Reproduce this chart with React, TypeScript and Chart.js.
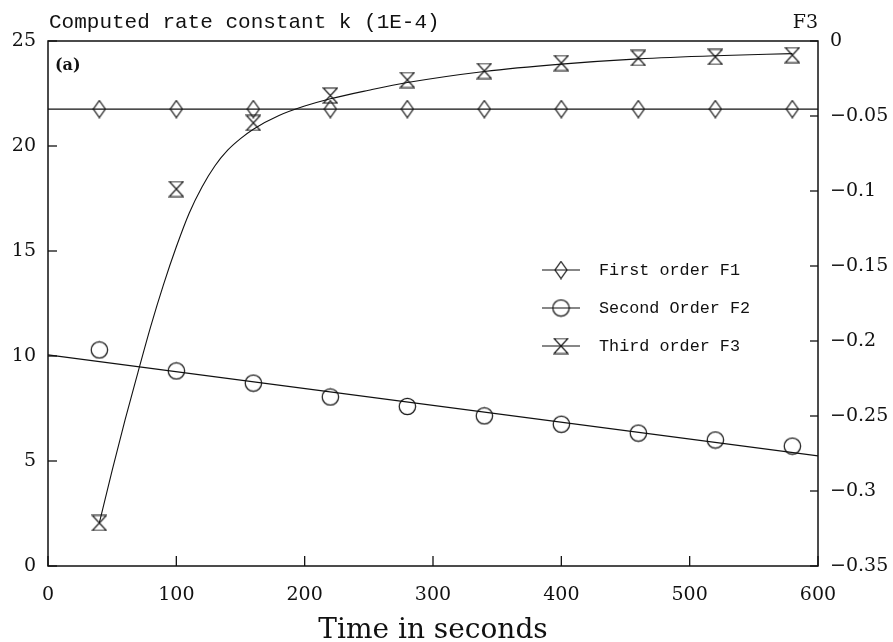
import { useEffect, useRef } from "react";
import { Chart, registerables } from "chart.js";

Chart.register(...registerables);

// ---- data ----
const timeSeconds = [40, 100, 160, 220, 280, 340, 400, 460, 520, 580];
const firstOrderF1 = [21.76, 21.76, 21.76, 21.76, 21.76, 21.76, 21.76, 21.76, 21.76, 21.76];
const secondOrderF2 = [10.29, 9.29, 8.71, 8.05, 7.6, 7.15, 6.75, 6.33, 6.0, 5.71];
const thirdOrderF3 = [-0.3213, -0.0987, -0.0546, -0.0364, -0.026, -0.02, -0.0147, -0.0113, -0.0106, -0.0094];

const f1FitX = [0, 600];
const f1FitY = [21.76, 21.76];
const f2FitX = [0, 600];
const f2FitY = [10.05, 5.24];
const f3FitX = [40, 50, 60, 70, 80, 90, 100, 110, 120, 130, 140, 150, 160, 180, 200, 220, 250, 280, 340, 400, 460, 520, 580];
const f3FitY = [-0.3213, -0.2863, -0.2527, -0.2212, -0.1904, -0.1624, -0.1372, -0.1148, -0.0973, -0.0833, -0.0728, -0.0651, -0.0588, -0.0497, -0.0434, -0.0385, -0.0328, -0.0277, -0.0203, -0.0154, -0.0119, -0.0098, -0.0084];

const xTicksMin = 0;
const xTicksMax = 600;
const xStep = 100;
const kMin = 0;
const kMax = 25;
const kStep = 5;
const f3Min = -0.35;
const f3Max = 0;
const f3Step = 0.05;

const titleLeft = "Computed rate constant k (1E-4)";
const titleRight = "F3";
const xTitle = "Time in seconds";
const panelLabel = "(a)";
const legendLabels = ["First order F1", "Second Order F2", "Third order F3"];

const INK = "#111";

function makeMarker(kind: string): HTMLCanvasElement {
  const c = document.createElement("canvas");
  let w = 14, h = 16;
  if (kind === "diamond") { w = 12; h = 17; }
  if (kind === "circle") { w = 17; h = 17; }
  if (kind === "hourglass") { w = 14; h = 15; }
  c.width = w + 2;
  c.height = h + 2;
  const g = c.getContext("2d")!;
  g.strokeStyle = INK;
  g.lineWidth = 1.2;
  const cx = c.width / 2, cy = c.height / 2;
  g.beginPath();
  if (kind === "diamond") {
    g.moveTo(cx, cy - h / 2);
    g.lineTo(cx + w / 2, cy);
    g.lineTo(cx, cy + h / 2);
    g.lineTo(cx - w / 2, cy);
    g.closePath();
  } else if (kind === "circle") {
    g.arc(cx, cy, w / 2 - 0.3, 0, Math.PI * 2);
  } else {
    g.moveTo(cx - w / 2, cy - h / 2);
    g.lineTo(cx + w / 2, cy - h / 2);
    g.lineTo(cx - w / 2, cy + h / 2);
    g.lineTo(cx + w / 2, cy + h / 2);
    g.closePath();
  }
  g.stroke();
  return c;
}

function fmtNum(v: number): string {
  const n = parseFloat(v.toFixed(2));
  const s = String(Math.abs(n));
  return n < 0 ? "\u2212" + s : s;
}

export default function App() {
  const ref = useRef<HTMLCanvasElement | null>(null);

  useEffect(() => {
    if (!ref.current) return;
    const diamond = makeMarker("diamond");
    const circle = makeMarker("circle");
    const hourglass = makeMarker("hourglass");

    const decor = {
      id: "decor",
      afterDraw(chart: any) {
        const { ctx, chartArea: a, scales } = chart;
        ctx.save();
        ctx.strokeStyle = INK;
        ctx.lineWidth = 1.5;
        ctx.strokeRect(a.left, a.top, a.right - a.left, a.bottom - a.top);
        ctx.lineWidth = 1.3;
        const seg = (x1: number, y1: number, x2: number, y2: number) => {
          ctx.beginPath();
          ctx.moveTo(x1, y1);
          ctx.lineTo(x2, y2);
          ctx.stroke();
        };
        scales.x.ticks.forEach((t: any) => {
          const p = scales.x.getPixelForValue(t.value);
          seg(p, a.bottom, p, a.bottom - 10);
        });
        scales.y.ticks.forEach((t: any) => {
          const p = scales.y.getPixelForValue(t.value);
          seg(a.left, p, a.left + 9, p);
        });
        scales.y2.ticks.forEach((t: any) => {
          const p = scales.y2.getPixelForValue(t.value);
          seg(a.right, p, a.right - 8, p);
        });

        ctx.fillStyle = INK;
        ctx.textBaseline = "alphabetic";
        ctx.font = "21px 'Liberation Mono'";
        ctx.textAlign = "left";
        ctx.fillText(titleLeft, a.left + 1, a.top - 13);
        ctx.font = "19px 'DejaVu Serif'";
        ctx.textAlign = "right";
        ctx.fillText(titleRight, a.right, a.top - 13);
        ctx.font = "28px 'DejaVu Serif'";
        ctx.textAlign = "center";
        ctx.fillText(xTitle, (a.left + a.right) / 2, a.bottom + 72);
        ctx.font = "bold 16px 'DejaVu Serif'";
        ctx.textAlign = "left";
        ctx.fillText(panelLabel, a.left + 7, a.top + 29);

        const markers = [diamond, circle, hourglass];
        const lx = a.left + 494;
        const rows = [a.top + 229, a.top + 267, a.top + 305];
        ctx.font = "16.8px 'Liberation Mono'";
        ctx.lineWidth = 1.1;
        rows.forEach((ry, i) => {
          seg(lx, ry, lx + 38, ry);
          const m = markers[i];
          ctx.drawImage(m, lx + 19 - m.width / 2, ry - m.height / 2);
          ctx.textBaseline = "middle";
          ctx.fillText(legendLabels[i], lx + 57, ry + 1);
        });
        ctx.restore();
      },
    };

    const pts = (xs: number[], ys: number[]) => xs.map((x, i) => ({ x, y: ys[i] }));

    const chart = new Chart(ref.current, {
      type: "scatter",
      data: {
        datasets: [
          { label: "F1 line", data: pts(f1FitX, f1FitY), showLine: true, borderColor: INK, borderWidth: 1.3, pointRadius: 0, yAxisID: "y" },
          { label: "First order F1", data: pts(timeSeconds, firstOrderF1), showLine: false, pointStyle: diamond, pointRadius: 8, yAxisID: "y" },
          { label: "F2 fit", data: pts(f2FitX, f2FitY), showLine: true, borderColor: INK, borderWidth: 1.3, pointRadius: 0, yAxisID: "y" },
          { label: "Second Order F2", data: pts(timeSeconds, secondOrderF2), showLine: false, pointStyle: circle, pointRadius: 8, yAxisID: "y" },
          { label: "F3 fit", data: pts(f3FitX, f3FitY), showLine: true, borderColor: INK, borderWidth: 1.1, pointRadius: 0, cubicInterpolationMode: "monotone", yAxisID: "y2" },
          { label: "Third order F3", data: pts(timeSeconds, thirdOrderF3), showLine: false, pointStyle: hourglass, pointRadius: 8, yAxisID: "y2" },
        ],
      } as any,
      options: {
        responsive: false,
        animation: false,
        devicePixelRatio: 1,
        layout: { padding: { top: 41, left: 0, right: 0, bottom: 0 } },
        plugins: { legend: { display: false }, tooltip: { enabled: false } },
        scales: {
          x: {
            type: "linear", min: xTicksMin, max: xTicksMax,
            ticks: { stepSize: xStep, color: INK, font: { family: "'DejaVu Serif'", size: 19 }, padding: 18, maxRotation: 0 },
            grid: { display: false, drawTicks: false },
            border: { display: false },
            afterFit: (s: any) => { s.height = 76; },
          },
          y: {
            type: "linear", position: "left", min: kMin, max: kMax,
            ticks: { stepSize: kStep, color: INK, font: { family: "'DejaVu Serif'", size: 19 }, padding: 12 },
            grid: { display: false, drawTicks: false },
            border: { display: false },
            afterFit: (s: any) => { s.width = 48; },
          },
          y2: {
            type: "linear", position: "right", min: f3Min, max: f3Max,
            ticks: { stepSize: f3Step, color: INK, font: { family: "'DejaVu Serif'", size: 19 }, padding: 12, callback: (v: any) => fmtNum(Number(v)) },
            grid: { display: false, drawTicks: false },
            border: { display: false },
            afterFit: (s: any) => { s.width = 75; },
          },
        },
      } as any,
      plugins: [decor],
    });
    return () => chart.destroy();
  }, []);

  return (
    <div style={{ position: "absolute", left: 0, top: 0, width: 893, height: 642, background: "#fff" }}>
      <canvas ref={ref} width={893} height={642} style={{ display: "block" }} />
    </div>
  );
}
